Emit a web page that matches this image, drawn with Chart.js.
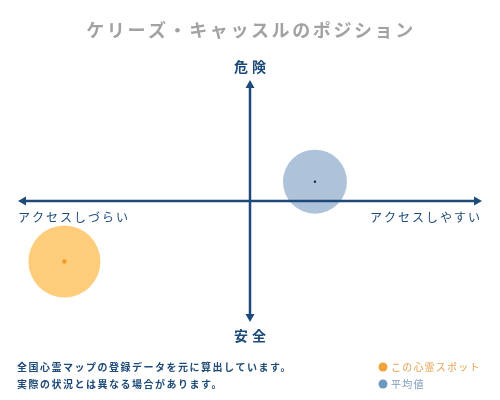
<!DOCTYPE html>
<html>
<head>
<meta charset="utf-8">
<script src="https://cdn.jsdelivr.net/npm/chart.js@4.4.1/dist/chart.umd.min.js"></script>
<style>
  html, body { margin: 0; padding: 0; background: #fff; }
  #wrap { width: 500px; height: 400px; position: relative; }
</style>
</head>
<body>
<div id="wrap"><canvas id="position-chart" width="500" height="400"></canvas></div>
<script>
// chart values
const seriesNames = ['この心霊スポット', '平均値'];
const spotPoint = [{ x: -8.0, y: -5.0 }];
const averagePoint = [{ x: 2.8, y: 1.6 }];
const bubbleSizes = [36, 32];
const axisLabels = { top: '危険', bottom: '安全', left: 'アクセスしづらい', right: 'アクセスしやすい' };
const titleText = 'ケリーズ・キャッスルのポジション';
const noteLines = ['全国心霊マップの登録データを元に算出しています。', '実際の状況とは異なる場合があります。'];

const navy = '#1d4a78';
const jpFont = '"Noto Sans CJK JP", "Noto Sans", sans-serif';

// draws title, cross axes, their labels, the notes and the legend
const crossAxes = {
    id: 'crossAxes',
    afterDatasetsDraw(chart) {
        const ctx = chart.ctx;
        const xs = chart.scales.x, ys = chart.scales.y;
        const cx = xs.getPixelForValue(0), cy = ys.getPixelForValue(0);
        const l = xs.left, r = xs.right, t = ys.top, b = ys.bottom;

        ctx.save();
        ctx.textBaseline = 'middle';
        ctx.textAlign = 'center';
        ctx.fillStyle = '#a2a2a2';
        ctx.font = 'bold 18px ' + jpFont;
        ctx.letterSpacing = '2.6px';
        ctx.fillText(titleText, 251, 30);

        ctx.strokeStyle = navy;
        ctx.fillStyle = navy;
        ctx.lineWidth = 2.5;
        ctx.beginPath();
        ctx.moveTo(l + 4, cy); ctx.lineTo(r - 4, cy);
        ctx.moveTo(cx, t + 4); ctx.lineTo(cx, b - 4);
        ctx.stroke();

        const head = (x, y, dx, dy) => {
            const s = 8, w = 4.5;
            ctx.beginPath();
            ctx.moveTo(x, y);
            ctx.lineTo(x - dx * s - dy * w, y - dy * s - dx * w);
            ctx.lineTo(x - dx * s + dy * w, y - dy * s + dx * w);
            ctx.closePath();
            ctx.fill();
        };
        head(l, cy, -1, 0);
        head(r, cy, 1, 0);
        head(cx, t, 0, -1);
        head(cx, b, 0, 1);

        ctx.font = 'bold 14px ' + jpFont;
        ctx.letterSpacing = '4px';
        ctx.textAlign = 'center';
        ctx.fillText(axisLabels.top, cx + 2, t - 13);
        ctx.fillText(axisLabels.bottom, cx + 2, b + 14);

        ctx.font = '12px ' + jpFont;
        ctx.letterSpacing = '2px';
        ctx.textAlign = 'left';
        ctx.fillText(axisLabels.left, l, cy + 16);
        ctx.textAlign = 'right';
        ctx.fillText(axisLabels.right, r, cy + 16);

        ctx.font = 'bold 10px ' + jpFont;
        ctx.letterSpacing = '1.5px';
        ctx.textAlign = 'left';
        noteLines.forEach((line, i) => ctx.fillText(line, 17, 367 + i * 17));

        const legendColors = ['#f0a23c', '#6f98c0'];
        const legendText = ['#e8a050', '#7c9cbc'];
        ctx.font = '10px ' + jpFont;
        ctx.letterSpacing = '1.2px';
        seriesNames.forEach((name, i) => {
            const y = 367 + i * 17;
            ctx.fillStyle = legendColors[i];
            ctx.beginPath();
            ctx.arc(383, y, 4.5, 0, Math.PI * 2);
            ctx.fill();
            ctx.fillStyle = legendText[i];
            ctx.fillText(name, 391, y);
        });
        ctx.restore();
    }
};

new Chart(document.getElementById('position-chart'), {
    type: 'bubble',
    data: {
        datasets: [
            {
                label: seriesNames[0],
                data: spotPoint.map(p => ({ ...p, r: bubbleSizes[0] })),
                backgroundColor: 'rgba(254, 196, 100, 0.85)',
                borderWidth: 0,
                hoverRadius: 0,
                order: 2
            },
            {
                label: seriesNames[1],
                data: averagePoint.map(p => ({ ...p, r: bubbleSizes[1] })),
                backgroundColor: 'rgba(160, 184, 212, 0.85)',
                borderWidth: 0,
                hoverRadius: 0,
                order: 1
            },
            {
                label: 'centers',
                data: [
                    { ...spotPoint[0], r: 2.2 },
                    { ...averagePoint[0], r: 1.2 }
                ],
                backgroundColor: ['#f09a20', '#15233a'],
                borderWidth: 0,
                order: 0
            }
        ]
    },
    options: {
        responsive: false,
        animation: false,
        layout: { autoPadding: false, padding: { left: 18, right: 18, top: 80, bottom: 78 } },
        scales: {
            x: { min: -10, max: 10, display: false },
            y: { min: -10, max: 10, display: false }
        },
        plugins: {
            legend: { display: false },
            tooltip: { enabled: false },
            title: { display: false }
        }
    },
    plugins: [crossAxes]
});
</script>
</body>
</html>
